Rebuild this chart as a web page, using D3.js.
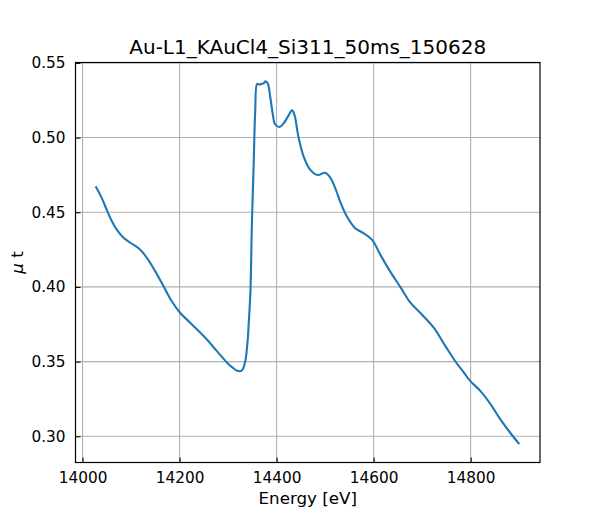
<!DOCTYPE html>
<html><head><meta charset="utf-8">
<script src="https://cdn.jsdelivr.net/npm/d3@7"></script>
<style>body{margin:0;background:#fff}text{font-family:"DejaVu Sans",sans-serif;fill:#000}</style>
</head><body><svg id="c" width="600" height="520"></svg>
<script>
const title = "Au-L1_KAuCl4_Si311_50ms_150628";
const xLabel = "Energy [eV]";
const energy = [14028,14040,14050,14061,14071,14085,14102,14119,14133,14150,14167,14184,14201,14222,14253,14277,14298,14310,14318,14324,14329,14335,14340,14343,14346,14349,14353,14356,14360,14365,14370,14374,14377,14382,14387,14392,14397,14406,14414,14423,14432,14437,14445,14456,14470,14485,14500,14511,14525,14531,14545,14562,14579,14597,14614,14634,14655,14675,14696,14724,14748,14768,14786,14799,14820,14841,14861,14882,14899];
const mut = [0.4667,0.4593,0.4515,0.4437,0.4382,0.4327,0.4289,0.4249,0.4193,0.4104,0.4004,0.3904,0.3827,0.3760,0.3660,0.3570,0.3493,0.3458,0.3440,0.3436,0.3442,0.3495,0.3627,0.3780,0.3960,0.4404,0.4849,0.5182,0.5360,0.5355,0.5360,0.5365,0.5377,0.5360,0.5270,0.5160,0.5089,0.5071,0.5093,0.5138,0.5182,0.5150,0.5005,0.4871,0.4782,0.4749,0.4764,0.4730,0.4627,0.4571,0.4471,0.4393,0.4360,0.4315,0.4215,0.4104,0.4000,0.3898,0.3827,0.3727,0.3604,0.3504,0.3427,0.3371,0.3304,0.3215,0.3115,0.3022,0.2953];
const xTicks = [14000,14200,14400,14600,14800];
const yTicks = [0.30,0.35,0.40,0.45,0.50,0.55];

const svg = d3.select("#c");
const L=75.5,R=540,T=62.5,B=462.5;
const x = d3.scaleLinear().domain([13985.5,14943]).range([L,R]);
const y = d3.scaleLinear().domain([0.28245,0.55025]).range([B,T]);

const g = svg.append("g");
g.selectAll(".gx").data(xTicks).join("line").attr("x1",d=>x(d)).attr("x2",d=>x(d)).attr("y1",T).attr("y2",B).attr("stroke","#b0b0b0").attr("stroke-width",1.1);
g.selectAll(".gy").data(yTicks).join("line").attr("y1",d=>y(d)).attr("y2",d=>y(d)).attr("x1",L).attr("x2",R).attr("stroke","#b0b0b0").attr("stroke-width",1.1);

const data = energy.map((e,i)=>[e,mut[i]]);
g.append("path").datum(data).attr("fill","none").attr("stroke","#1f77b4").attr("stroke-width",2.1)
 .attr("stroke-linejoin","round").attr("stroke-linecap","square")
 .attr("d",d3.line().x(d=>x(d[0])).y(d=>y(d[1])).curve(d3.curveCatmullRom.alpha(0.5)));

const xa = d3.axisBottom(x).tickValues(xTicks).tickSize(-5).tickPadding(10).tickFormat(d3.format("d"));
const ya = d3.axisLeft(y).tickValues(yTicks).tickSize(-5).tickPadding(10).tickFormat(d3.format(".2f"));
const gx = svg.append("g").attr("transform",`translate(0,${B})`).call(xa);
const gy = svg.append("g").attr("transform",`translate(${L},0)`).call(ya);
[gx,gy].forEach(a=>{a.select(".domain").remove();a.selectAll("line").attr("stroke","#000").attr("stroke-width",1.1);a.selectAll("text").attr("font-size",15.3).attr("font-family","DejaVu Sans").attr("fill","#000");});
gx.selectAll("text").attr("dy","0.71em");
svg.append("rect").attr("x",L).attr("y",T).attr("width",R-L).attr("height",B-T).attr("fill","none").attr("stroke","#000").attr("stroke-width",1.2);

svg.append("text").attr("x",(L+R)/2).attr("y",54).attr("text-anchor","middle").attr("font-size",20).text(title);
svg.append("text").attr("x",(L+R)/2).attr("y",504).attr("text-anchor","middle").attr("font-size",16.7).text(xLabel);
const yl = svg.append("text").attr("transform",`translate(23,${(T+B)/2}) rotate(-90)`).attr("text-anchor","middle").attr("font-size",16.7);
yl.append("tspan").attr("font-style","italic").text("μ");
yl.append("tspan").text(" t");
</script></body></html>
